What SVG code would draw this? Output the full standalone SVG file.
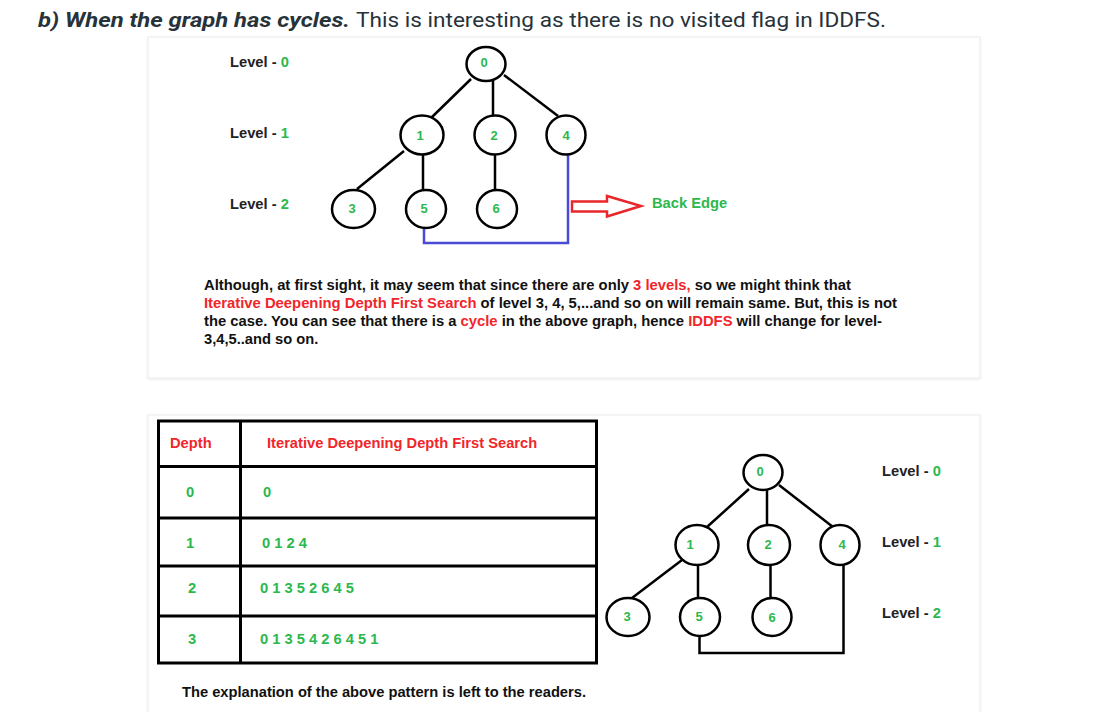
<svg xmlns="http://www.w3.org/2000/svg" width="1106" height="712" viewBox="0 0 1106 712">
<defs>
<style>
.card{fill:#fff;stroke:#ebebeb;stroke-width:1}
.nd{fill:#fff;stroke:#000;stroke-width:2.5}
.e{stroke:#000;stroke-width:2.5;fill:none}
.lbl{font-family:"Liberation Sans",Arial,sans-serif;font-weight:bold;font-size:13px;fill:#2db84d;text-anchor:middle}
.lv{font-family:"Liberation Sans",Arial,sans-serif;font-weight:bold;font-size:14.7px;fill:#222}
.g{fill:#2db84d}
.r{fill:#f0262b}
.p{font-family:"Liberation Sans",Arial,sans-serif;font-weight:bold;font-size:14.7px;fill:#111}
.tb{font-family:"Liberation Sans",Arial,sans-serif;font-weight:bold;font-size:14.7px}
.grid{stroke:#000;stroke-width:3;fill:none}
</style>
<filter id="sh" x="-5%" y="-5%" width="110%" height="110%"><feDropShadow dx="0" dy="1" stdDeviation="1.5" flood-color="#000" flood-opacity="0.08"/></filter>
</defs>
<rect width="1106" height="712" fill="#fff"/>
<text x="38" y="27" font-family="Roboto,'Liberation Sans',sans-serif" font-size="21" fill="#273239"><tspan font-weight="bold" font-style="italic" textLength="312" lengthAdjust="spacingAndGlyphs">b) When the graph has cycles.</tspan><tspan x="356" textLength="530" lengthAdjust="spacingAndGlyphs">This is interesting as there is no visited flag in IDDFS.</tspan></text>

<rect class="card" x="148" y="37" width="832" height="341" filter="url(#sh)"/>
<rect class="card" x="148" y="415" width="832" height="305" filter="url(#sh)"/>

<g id="top-levels">
<text class="lv" x="230" y="67">Level - <tspan class="g">0</tspan></text>
<text class="lv" x="230" y="138">Level - <tspan class="g">1</tspan></text>
<text class="lv" x="230" y="209">Level - <tspan class="g">2</tspan></text>
</g>
<g id="top-connectors">
<line class="e" x1="471" y1="79" x2="431" y2="118"/>
<line class="e" x1="493" y1="81" x2="493" y2="115"/>
<line class="e" x1="504" y1="75" x2="558" y2="116"/>
<line class="e" x1="404" y1="151" x2="357" y2="189"/>
<line class="e" x1="423" y1="155" x2="423" y2="191"/>
<line class="e" x1="495" y1="155" x2="495" y2="190"/>
<polyline points="568,151 568,243 424,243 424,227" fill="none" stroke="#4a4ad6" stroke-width="2.5"/>
<polygon points="572,201.5 607,201.5 607,196 641,206 607,216.5 607,211.5 572,211.5" fill="#fff" stroke="#e8262b" stroke-width="2.5" stroke-linejoin="miter"/>
</g>
<g id="t0"><ellipse class="nd" cx="486" cy="64" rx="19.5" ry="17"/><text class="lbl" x="484" y="67">0</text></g>
<g id="t1"><ellipse class="nd" cx="422" cy="135" rx="21.5" ry="19.5"/><text class="lbl" x="420" y="140">1</text></g>
<g id="t2"><ellipse class="nd" cx="495" cy="135" rx="20.5" ry="19.5"/><text class="lbl" x="494" y="140">2</text></g>
<g id="t4"><ellipse class="nd" cx="566" cy="135" rx="19.5" ry="19.5"/><text class="lbl" x="566" y="140">4</text></g>
<g id="t3"><ellipse class="nd" cx="353.5" cy="209" rx="21.5" ry="19"/><text class="lbl" x="352" y="213">3</text></g>
<g id="t5"><ellipse class="nd" cx="426" cy="209" rx="20" ry="19"/><text class="lbl" x="424" y="213">5</text></g>
<g id="t6"><ellipse class="nd" cx="497" cy="209" rx="20" ry="19"/><text class="lbl" x="496" y="213">6</text></g>
<g id="back-edge-label"><text class="tb g" x="652" y="208" font-size="15.8">Back Edge</text></g>

<g id="paragraph">
<text class="p" x="204" y="290" textLength="647" lengthAdjust="spacingAndGlyphs">Although, at first sight, it may seem that since there are only <tspan class="r">3 levels,</tspan> so we might think that</text>
<text class="p" x="204" y="308" textLength="693" lengthAdjust="spacingAndGlyphs"><tspan class="r">Iterative Deepening Depth First Search</tspan> of level 3, 4, 5,...and so on will remain same. But, this is not</text>
<text class="p" x="204" y="326" textLength="678" lengthAdjust="spacingAndGlyphs">the case. You can see that there is a <tspan class="r">cycle</tspan> in the above graph, hence <tspan class="r">IDDFS</tspan> will change for level-</text>
<text class="p" x="204" y="344">3,4,5..and so on.</text>
</g>

<g id="table">
<rect class="grid" x="158.5" y="421" width="438" height="242"/>
<line class="grid" x1="240.5" y1="421" x2="240.5" y2="663"/>
<line class="grid" x1="158.5" y1="466.5" x2="596.5" y2="466.5"/>
<line class="grid" x1="158.5" y1="518" x2="596.5" y2="518"/>
<line class="grid" x1="158.5" y1="566" x2="596.5" y2="566"/>
<line class="grid" x1="158.5" y1="616" x2="596.5" y2="616"/>
<text class="tb r" x="170" y="448">Depth</text>
<text class="tb r" x="267" y="448">Iterative Deepening Depth First Search</text>
<g class="tb g">
<text x="186" y="497">0</text><text x="263" y="497">0</text>
<text x="186" y="548">1</text><text x="262" y="548">0 1 2 4</text>
<text x="188" y="593">2</text><text x="260" y="593">0 1 3 5 2 6 4 5</text>
<text x="188" y="644">3</text><text x="260" y="644">0 1 3 5 4 2 6 4 5 1</text>
</g>
<text class="p" x="182" y="697">The explanation of the above pattern is left to the readers.</text>
</g>

<g id="bottom-levels">
<text class="lv" x="882" y="476">Level - <tspan class="g">0</tspan></text>
<text class="lv" x="882" y="547">Level - <tspan class="g">1</tspan></text>
<text class="lv" x="882" y="618">Level - <tspan class="g">2</tspan></text>
</g>
<g id="bottom-connectors">
<line class="e" x1="749" y1="489" x2="707" y2="527"/>
<line class="e" x1="767" y1="490" x2="767" y2="525"/>
<line class="e" x1="779" y1="485" x2="833" y2="527"/>
<line class="e" x1="682" y1="560" x2="632" y2="598"/>
<line class="e" x1="698" y1="565" x2="698" y2="600"/>
<line class="e" x1="770.5" y1="565" x2="770.5" y2="603"/>
<polyline class="e" points="843.5,562 843.5,653 699.5,653 699.5,636"/>
</g>
<g id="b0"><ellipse class="nd" cx="763" cy="472.5" rx="19.5" ry="17.5"/><text class="lbl" x="760" y="476">0</text></g>
<g id="b1"><ellipse class="nd" cx="697" cy="545" rx="21.5" ry="20"/><text class="lbl" x="690" y="549">1</text></g>
<g id="b2"><ellipse class="nd" cx="769" cy="545" rx="21" ry="20"/><text class="lbl" x="768" y="549">2</text></g>
<g id="b4"><ellipse class="nd" cx="840" cy="545" rx="19.5" ry="20"/><text class="lbl" x="842" y="549">4</text></g>
<g id="b3"><ellipse class="nd" cx="628" cy="617" rx="21.5" ry="19"/><text class="lbl" x="627" y="621">3</text></g>
<g id="b5"><ellipse class="nd" cx="700" cy="617" rx="20" ry="19"/><text class="lbl" x="699" y="621">5</text></g>
<g id="b6"><ellipse class="nd" cx="772" cy="617" rx="19.5" ry="19"/><text class="lbl" x="772" y="622">6</text></g>
</svg>
